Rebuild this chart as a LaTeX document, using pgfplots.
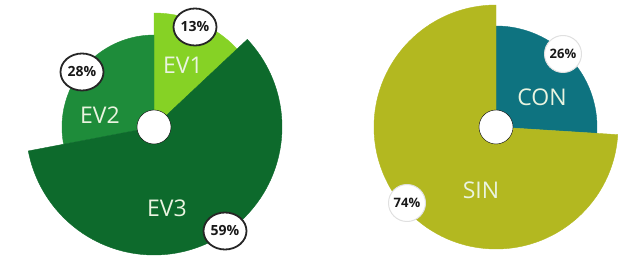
\documentclass[border=0pt]{standalone}
\usepackage{pgfplots}
\pgfplotsset{compat=1.18}
\usepackage{fontspec}
\setmainfont{Open Sans}
\usetikzlibrary{shapes.geometric}
\definecolor{evone}{HTML}{86D225}
\definecolor{evtwo}{HTML}{1E8C3A}
\definecolor{evthree}{HTML}{0D6A2C}
\definecolor{con}{HTML}{0E7380}
\definecolor{sin}{HTML}{B3B820}
\definecolor{lbl}{HTML}{EAF4E0}
\pgfplotsset{
  sector/.style={
    scatter, only marks, mark=*, mark size=0pt,
    visualization depends on={\thisrow{p0}\as\pz},
    visualization depends on={\thisrow{p}\as\pp},
    visualization depends on={\thisrow{r}\as\pr},
    scatter/@pre marker code/.code={%
      \pgfmathsetmacro\sa{90-3.6*\pz}%
      \pgfmathsetmacro\se{90-3.6*(\pz+\pp)}%
      \fill[#1] (0,0) -- (\sa:\pr pt) arc[start angle=\sa, end angle=\se, radius=\pr pt] -- cycle;
    },
    scatter/@post marker code/.code={},
  },
}
\begin{document}
\begin{tikzpicture}
\begin{axis}[
  x=1pt, y=1pt, xmin=0, xmax=635, ymin=0, ymax=259,
  axis line style={draw=none}, xtick=\empty, ytick=\empty,
  clip=false, scale only axis,
]
% sectors: centre x, centre y, start percentage, percentage, radius
\addplot[sector=evone] table {
cx cy p0 p r
154 132 0 13 114
};
\addplot[sector=evtwo] table {
cx cy p0 p r
154 132 72 28 92
};
\addplot[sector=evthree] table {
cx cy p0 p r
154 132 13 59 128
};
\addplot[sector=con] table {
cx cy p0 p r
496 132 0 26 101
};
\addplot[sector=sin] table {
cx cy p0 p r
496 132 26 74 122
};
% holes
\addplot[only marks, mark=*, mark size=17pt, mark options={fill=white, draw=none}] table {
x y
154 132
496 132
};
% category labels
\addplot[only marks, mark=none, point meta=explicit symbolic,
  nodes near coords, nodes near coords align=center,
  every node near coord/.append style={font=\fontsize{23}{23}\selectfont, text=lbl, inner sep=0pt, anchor=center}]
  table[meta=lab] {
x y lab
183 194 EV1
100 144 EV2
167 51 EV3
542 162 CON
481 69 SIN
};
% badges with outline
\addplot[only marks, mark=none, point meta=explicit symbolic,
  nodes near coords, nodes near coords align=center,
  every node near coord/.append style={font=\bfseries\fontsize{14}{14}\selectfont, text=black!90,
    ellipse, fill=white, draw=black!85, line width=1.8pt, minimum width=43pt, minimum height=37pt, inner sep=0pt, anchor=center}]
  table[meta=lab] {
x y lab
195 232 13\%
82 187 28\%
225 28 59\%
};
% badges without outline
\addplot[only marks, mark=none, point meta=explicit symbolic,
  nodes near coords, nodes near coords align=center,
  every node near coord/.append style={font=\bfseries\fontsize{13}{13}\selectfont, text=black!90,
    circle, fill=white, draw=black!12, line width=1pt, minimum size=37pt, inner sep=0pt, anchor=center}]
  table[meta=lab] {
x y lab
563 205 26\%
407 56 74\%
};
\end{axis}
\end{tikzpicture}
\end{document}
